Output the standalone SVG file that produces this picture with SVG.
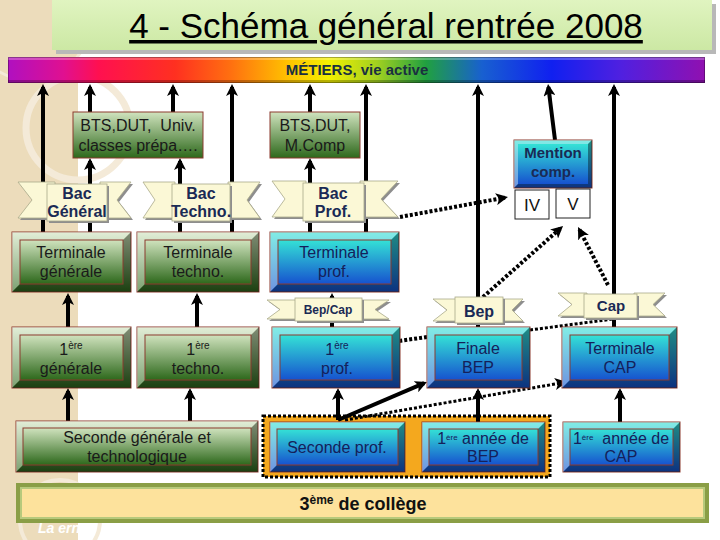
<svg xmlns="http://www.w3.org/2000/svg" width="720" height="540" viewBox="0 0 720 540">
<defs>
<style>
text{font-family:"Liberation Sans",Arial,sans-serif}
.tg{font-size:16px;fill:#1a1a1a;text-anchor:middle}
.tb{font-size:16px;fill:#15205a;text-anchor:middle}
.tr{font-weight:bold;fill:#1a2a55;text-anchor:middle}
.bord{stroke:#8b3a2e;stroke-width:1}
.lt{fill:#fff;fill-opacity:.38}
.dk{fill:#000;fill-opacity:.38}
.wing{fill:#fbf8d6;stroke:#a9a98a;stroke-width:.8}
.shd{fill:#8e8e8e}
.panel{fill:#fbf8d6;stroke:#a9a98a;stroke-width:.8}
.ar{fill:none;stroke:#000;stroke-width:4;marker-end:url(#ah)}
.dt{fill:none;stroke:#000;stroke-width:4;stroke-dasharray:3 2}
</style>
<marker id="ah" viewBox="0 -6 12 12" refX="9" refY="0" markerWidth="12" markerHeight="12" markerUnits="userSpaceOnUse" orient="auto"><path d="M0,-6 L12,0 L0,6 L3,0 Z" fill="#000"/></marker>
<linearGradient id="gG" x1="0" y1="0" x2="0" y2="1"><stop offset="0" stop-color="#d0e3be"/><stop offset="1" stop-color="#2d681b"/></linearGradient>
<linearGradient id="gB" x1="0" y1="0" x2="0" y2="1"><stop offset="0" stop-color="#34e2d6"/><stop offset="1" stop-color="#1652cf"/></linearGradient>
<linearGradient id="gR" x1="0" y1="0" x2="1" y2="0">
<stop offset="0" stop-color="#b010c0"/><stop offset=".08" stop-color="#e01090"/><stop offset=".13" stop-color="#ff1050"/><stop offset=".24" stop-color="#ff3020"/><stop offset=".32" stop-color="#ff7010"/><stop offset=".40" stop-color="#ffc000"/><stop offset=".46" stop-color="#f4f000"/><stop offset=".53" stop-color="#a0d020"/><stop offset=".60" stop-color="#20a040"/><stop offset=".68" stop-color="#1860d0"/><stop offset=".78" stop-color="#1020f0"/><stop offset=".88" stop-color="#5020e0"/><stop offset="1" stop-color="#9010b0"/>
</linearGradient>
<linearGradient id="gT" x1="0" y1="0" x2="0" y2="1"><stop offset="0" stop-color="#e0f4c0"/><stop offset="1" stop-color="#cce8a4"/></linearGradient>
</defs>

<!-- background -->
<rect x="0" y="0" width="720" height="540" fill="#fff"/>
<rect x="0" y="0" width="78" height="540" fill="#ecdcbb"/>
<circle cx="78" cy="128" r="52" fill="none" stroke="#f4ead8" stroke-width="7"/>
<circle cx="30" cy="20" r="60" fill="none" stroke="#f4ead8" stroke-width="3"/>
<circle cx="60" cy="520" r="40" fill="none" stroke="#f4ead8" stroke-width="4"/>
<text x="38" y="533" font-size="14" font-style="italic" font-weight="bold" fill="#fff">La ern</text>

<!-- title -->
<rect x="56" y="4" width="660" height="50" fill="#b8b8b8"/>
<rect x="52" y="0" width="660" height="50" fill="url(#gT)"/>
<text x="386" y="38" font-size="35" fill="#000" text-anchor="middle" text-decoration="underline">4 - Schéma général rentrée 2008</text>

<!-- rainbow bar -->
<g id="metiers">
<rect x="8" y="57" width="697" height="26" fill="url(#gR)"/>
<rect x="8" y="57" width="697" height="3" fill="#fff" fill-opacity=".25"/>
<rect x="8" y="80" width="697" height="3" fill="#000" fill-opacity=".25"/>
<rect x="8.5" y="57.5" width="696" height="25" fill="none" stroke="#000" stroke-opacity=".3"/>
<text x="357" y="75" font-size="15" font-weight="bold" fill="#1a3040" text-anchor="middle">MÉTIERS, vie active</text>
</g>

<!-- orange frame -->
<rect x="263" y="416" width="287" height="61" fill="#f4a81e" stroke="#000" stroke-width="3" stroke-dasharray="3 2"/>

<!-- connectors -->
<g id="connectors">
<path class="ar" d="M43,232 V87"/>
<path class="ar" d="M90,112 V87"/>
<path class="ar" d="M173,112 V87"/>
<path class="ar" d="M232,232 V87"/>
<path class="ar" d="M310,112 V87"/>
<path class="ar" d="M366,232 V87"/>
<path class="ar" d="M478,327 V87"/>
<path class="ar" d="M555,140 L548.4,87"/>
<path class="ar" d="M614,327 V87"/>
<path class="ar" d="M90,232 V161"/>
<path class="ar" d="M180,232 V161"/>
<path class="ar" d="M310,232 V161"/>
<path class="ar" d="M68,327 V296"/>
<path class="ar" d="M197,327 V296"/>
<path class="ar" d="M332,327 V296"/>
<path class="ar" d="M68,421 V391"/>
<path class="ar" d="M190,421 V391"/>
<path class="ar" d="M338,420 V391"/>
<path class="ar" d="M338,420 L424.2,383.2"/>
<path class="ar" d="M478,422 V391"/>
<path class="ar" d="M620,422 V391"/>
<path class="ar" style="stroke-dasharray:3 2" d="M400,217 L505,197.6"/>
<path class="ar" style="stroke-dasharray:3 2" d="M483,297 L560.8,228"/>
<path class="ar" style="stroke-dasharray:3 2" d="M608,285 L579.4,229.7"/>
<path class="ar" style="stroke-dasharray:3 2" d="M427,337 L359,346.6"/>
<path class="dt" style="stroke-width:3" d="M530,330 L613,319"/>
<path class="ar" style="stroke-dasharray:3 2;stroke-width:3" d="M345,420 L564,382.5"/>
</g>

<!-- BTS boxes -->
<g id="bts-univ">
<rect x="73" y="112" width="130" height="46" fill="url(#gG)" class="bord"/>
<text class="tg" xml:space="preserve" x="138" y="131">BTS,DUT,  Univ.</text>
<text class="tg" x="138" y="151">classes prépa….</text>
</g>
<g id="bts-mcomp">
<rect x="270" y="112" width="90" height="46" fill="url(#gG)" class="bord"/>
<text class="tg" x="315" y="131">BTS,DUT,</text>
<text class="tg" x="315" y="151">M.Comp</text>
</g>

<!-- Bac ribbons -->
<g id="bac-general">
<path class="shd" d="M20,184 H57 V220 H20 L34,202 Z M102,184 H133 L119,202 L133,220 H102 Z"/>
<path class="wing" d="M18,182 H55 V218 H18 L32,200 Z M100,182 H131 L117,200 L131,218 H100 Z"/>
<rect class="shd" x="49" y="186" width="60" height="37"/>
<rect class="panel" x="47" y="184" width="60" height="37"/>
<text class="tr" font-size="16" x="77" y="199">Bac</text>
<text class="tr" font-size="16" x="77" y="217">Général</text>
</g>
<g id="bac-techno">
<path class="shd" d="M145,184 H177 V220 H145 L157,202 Z M230,184 H262 L249,202 L262,220 H230 Z"/>
<path class="wing" d="M143,182 H175 V218 H143 L155,200 Z M228,182 H260 L247,200 L260,218 H228 Z"/>
<rect class="shd" x="174" y="186" width="58" height="37"/>
<rect class="panel" x="172" y="184" width="58" height="37"/>
<text class="tr" font-size="16" x="201" y="199">Bac</text>
<text class="tr" font-size="16" x="201" y="217">Techno.</text>
</g>
<g id="bac-prof">
<path class="shd" d="M274,183 H308 V219 H274 L287,201 Z M362,183 H400 L383,201 L400,219 H362 Z"/>
<path class="wing" d="M272,181 H306 V217 H272 L285,199 Z M360,181 H398 L381,199 L398,217 H360 Z"/>
<rect class="shd" x="305" y="185" width="61" height="38"/>
<rect class="panel" x="303" y="183" width="61" height="38"/>
<text class="tr" font-size="16" x="333" y="199">Bac</text>
<text class="tr" font-size="16" x="333" y="217">Prof.</text>
</g>

<!-- Terminale row -->
<g id="terminale-generale">
<rect x="12" y="232" width="119" height="60" fill="url(#gG)" class="bord"/>
<path class="lt" d="M12,232 H131 L123,240 H20 V284 L12,292 Z"/>
<path class="dk" d="M131,232 V292 H12 L20,284 H123 V240 Z"/>
<rect x="20" y="240" width="103" height="44" fill="url(#gG)" class="bord"/>
<text class="tg" x="71" y="258">Terminale</text>
<text class="tg" x="71" y="277">générale</text>
</g>
<g id="terminale-techno">
<rect x="137" y="232" width="122" height="60" fill="url(#gG)" class="bord"/>
<path class="lt" d="M137,232 H259 L251,240 H145 V284 L137,292 Z"/>
<path class="dk" d="M259,232 V292 H137 L145,284 H251 V240 Z"/>
<rect x="145" y="240" width="106" height="44" fill="url(#gG)" class="bord"/>
<text class="tg" x="198" y="258">Terminale</text>
<text class="tg" x="198" y="277">techno.</text>
</g>
<g id="terminale-prof">
<rect x="270" y="232" width="129" height="60" fill="url(#gB)" class="bord"/>
<path class="lt" d="M270,232 H399 L391,240 H278 V284 L270,292 Z"/>
<path class="dk" d="M399,232 V292 H270 L278,284 H391 V240 Z"/>
<rect x="278" y="240" width="113" height="44" fill="url(#gB)" class="bord"/>
<text class="tb" x="334" y="258">Terminale</text>
<text class="tb" x="334" y="277">prof.</text>
</g>

<!-- small tags -->
<g id="tag-bepcap">
<path class="shd" d="M269,302 H300 V321 H269 L282,311.5 Z M360,302 H391 L377,311.5 L391,321 H360 Z"/>
<path class="wing" d="M267,300 H298 V319 H267 L280,309.5 Z M358,300 H389 L375,309.5 L389,319 H358 Z"/>
<rect class="shd" x="297" y="300" width="67" height="23"/>
<rect class="panel" x="295" y="298" width="67" height="23"/>
<text class="tr" font-size="12" x="328" y="314">Bep/Cap</text>
</g>
<g id="tag-bep">
<path class="shd" d="M435,301 H460 V323 H435 L449,312 Z M502,301 H525 L514,312 L525,323 H502 Z"/>
<path class="wing" d="M433,299 H458 V321 H433 L447,310 Z M500,299 H523 L512,310 L523,321 H500 Z"/>
<rect class="shd" x="457" y="299" width="48" height="26"/>
<rect class="panel" x="455" y="297" width="48" height="26"/>
<text class="tr" font-size="16" x="479" y="317">Bep</text>
</g>
<g id="tag-cap">
<path class="shd" d="M560,295 H589 V318 H560 L574,306.5 Z M636,295 H667 L655,306.5 L667,318 H636 Z"/>
<path class="wing" d="M558,293 H587 V316 H558 L572,304.5 Z M634,293 H665 L653,304.5 L665,316 H634 Z"/>
<rect class="shd" x="586" y="296" width="53" height="24"/>
<rect class="panel" x="584" y="294" width="53" height="24"/>
<text class="tr" font-size="15" x="611" y="311">Cap</text>
</g>

<!-- 1ere row -->
<g id="premiere-generale">
<rect x="12" y="327" width="119" height="61" fill="url(#gG)" class="bord"/>
<path class="lt" d="M12,327 H131 L123,335 H20 V380 L12,388 Z"/>
<path class="dk" d="M131,327 V388 H12 L20,380 H123 V335 Z"/>
<rect x="20" y="335" width="103" height="45" fill="url(#gG)" class="bord"/>
<text class="tg" x="71" y="355">1<tspan font-size="10" dy="-6">ère</tspan></text>
<text class="tg" x="71" y="374">générale</text>
</g>
<g id="premiere-techno">
<rect x="137" y="327" width="122" height="61" fill="url(#gG)" class="bord"/>
<path class="lt" d="M137,327 H259 L251,335 H145 V380 L137,388 Z"/>
<path class="dk" d="M259,327 V388 H137 L145,380 H251 V335 Z"/>
<rect x="145" y="335" width="106" height="45" fill="url(#gG)" class="bord"/>
<text class="tg" x="198" y="355">1<tspan font-size="10" dy="-6">ère</tspan></text>
<text class="tg" x="198" y="374">techno.</text>
</g>
<g id="premiere-prof">
<rect x="272" y="327" width="128" height="61" fill="url(#gB)" class="bord"/>
<path class="lt" d="M272,327 H400 L392,335 H280 V380 L272,388 Z"/>
<path class="dk" d="M400,327 V388 H272 L280,380 H392 V335 Z"/>
<rect x="280" y="335" width="112" height="45" fill="url(#gB)" class="bord"/>
<text class="tb" x="337" y="355">1<tspan font-size="10" dy="-6">ère</tspan></text>
<text class="tb" x="337" y="374">prof.</text>
</g>
<g id="finale-bep">
<rect x="427" y="327" width="103" height="61" fill="url(#gB)" class="bord"/>
<path class="lt" d="M427,327 H530 L522,335 H435 V380 L427,388 Z"/>
<path class="dk" d="M530,327 V388 H427 L435,380 H522 V335 Z"/>
<rect x="435" y="335" width="87" height="45" fill="url(#gB)" class="bord"/>
<text class="tb" x="478" y="354">Finale</text>
<text class="tb" x="478" y="373">BEP</text>
</g>
<g id="terminale-cap">
<rect x="562" y="327" width="115" height="61" fill="url(#gB)" class="bord"/>
<path class="lt" d="M562,327 H677 L669,335 H570 V380 L562,388 Z"/>
<path class="dk" d="M677,327 V388 H562 L570,380 H669 V335 Z"/>
<rect x="570" y="335" width="99" height="45" fill="url(#gB)" class="bord"/>
<text class="tb" x="620" y="354">Terminale</text>
<text class="tb" x="620" y="373">CAP</text>
</g>

<!-- Seconde row -->
<g id="seconde-gt">
<rect x="16" y="421" width="242" height="51" fill="url(#gG)" class="bord"/>
<path class="lt" d="M16,421 H258 L251,428 H23 V465 L16,472 Z"/>
<path class="dk" d="M258,421 V472 H16 L23,465 H251 V428 Z"/>
<rect x="23" y="428" width="228" height="37" fill="url(#gG)" class="bord"/>
<text class="tg" x="137" y="443">Seconde générale et</text>
<text class="tg" x="137" y="462">technologique</text>
</g>
<g id="seconde-prof">
<rect x="270" y="422" width="135" height="50" fill="url(#gB)" class="bord"/>
<path class="lt" d="M270,422 H405 L398,429 H277 V465 L270,472 Z"/>
<path class="dk" d="M405,422 V472 H270 L277,465 H398 V429 Z"/>
<rect x="277" y="429" width="121" height="36" fill="url(#gB)" class="bord"/>
<text class="tb" x="337" y="453">Seconde prof.</text>
</g>
<g id="premiere-annee-bep">
<rect x="422" y="422" width="123" height="50" fill="url(#gB)" class="bord"/>
<path class="lt" d="M422,422 H545 L538,429 H429 V465 L422,472 Z"/>
<path class="dk" d="M545,422 V472 H422 L429,465 H538 V429 Z"/>
<rect x="429" y="429" width="109" height="36" fill="url(#gB)" class="bord"/>
<text class="tb" font-size="13" x="483" y="444">1<tspan font-size="8" dy="-4">ère</tspan><tspan dy="4"> année de</tspan></text>
<text class="tb" font-size="13" x="483" y="462">BEP</text>
</g>
<g id="premiere-annee-cap">
<rect x="563" y="422" width="117" height="50" fill="url(#gB)" class="bord"/>
<path class="lt" d="M563,422 H680 L673,429 H570 V465 L563,472 Z"/>
<path class="dk" d="M680,422 V472 H563 L570,465 H673 V429 Z"/>
<rect x="570" y="429" width="103" height="36" fill="url(#gB)" class="bord"/>
<text class="tb" font-size="13" x="621" y="444" xml:space="preserve">1<tspan font-size="8" dy="-4">ère</tspan><tspan dy="4">  année de</tspan></text>
<text class="tb" font-size="13" x="621" y="462">CAP</text>
</g>

<!-- Mention comp -->
<g id="mention-comp">
<rect x="514" y="140" width="78" height="48" fill="url(#gB)" class="bord"/>
<path class="lt" d="M514,140 H592 L588,144 H518 V184 L514,188 Z"/>
<path class="dk" d="M592,140 V188 H514 L518,184 H588 V144 Z"/>
<rect x="518" y="144" width="70" height="40" fill="url(#gB)"/>
<text class="tr" font-size="15" x="553" y="158" fill="#15205a">Mention</text>
<text class="tr" font-size="15" x="553" y="177" fill="#15205a">comp.</text>
</g>
<g id="niveau-iv">
<rect x="515" y="190" width="34" height="29" fill="#fff" stroke="#222"/>
<text x="532" y="211" font-size="17" fill="#111" text-anchor="middle">IV</text>
</g>
<g id="niveau-v">
<rect x="556" y="189" width="34" height="29" fill="#fff" stroke="#222"/>
<text x="573" y="210" font-size="17" fill="#111" text-anchor="middle">V</text>
</g>

<!-- college -->
<g id="college">
<rect x="16" y="483" width="693" height="40" fill="#8a9e46"/>
<rect x="20" y="487" width="685" height="32" fill="#b7c97c"/>
<rect x="22" y="489" width="681" height="28" fill="#fde29c"/>
<text x="363" y="510" font-size="18" font-weight="bold" fill="#111" text-anchor="middle">3<tspan font-size="12" dy="-6">ème</tspan><tspan dy="6"> de collège</tspan></text>
</g>
</svg>
